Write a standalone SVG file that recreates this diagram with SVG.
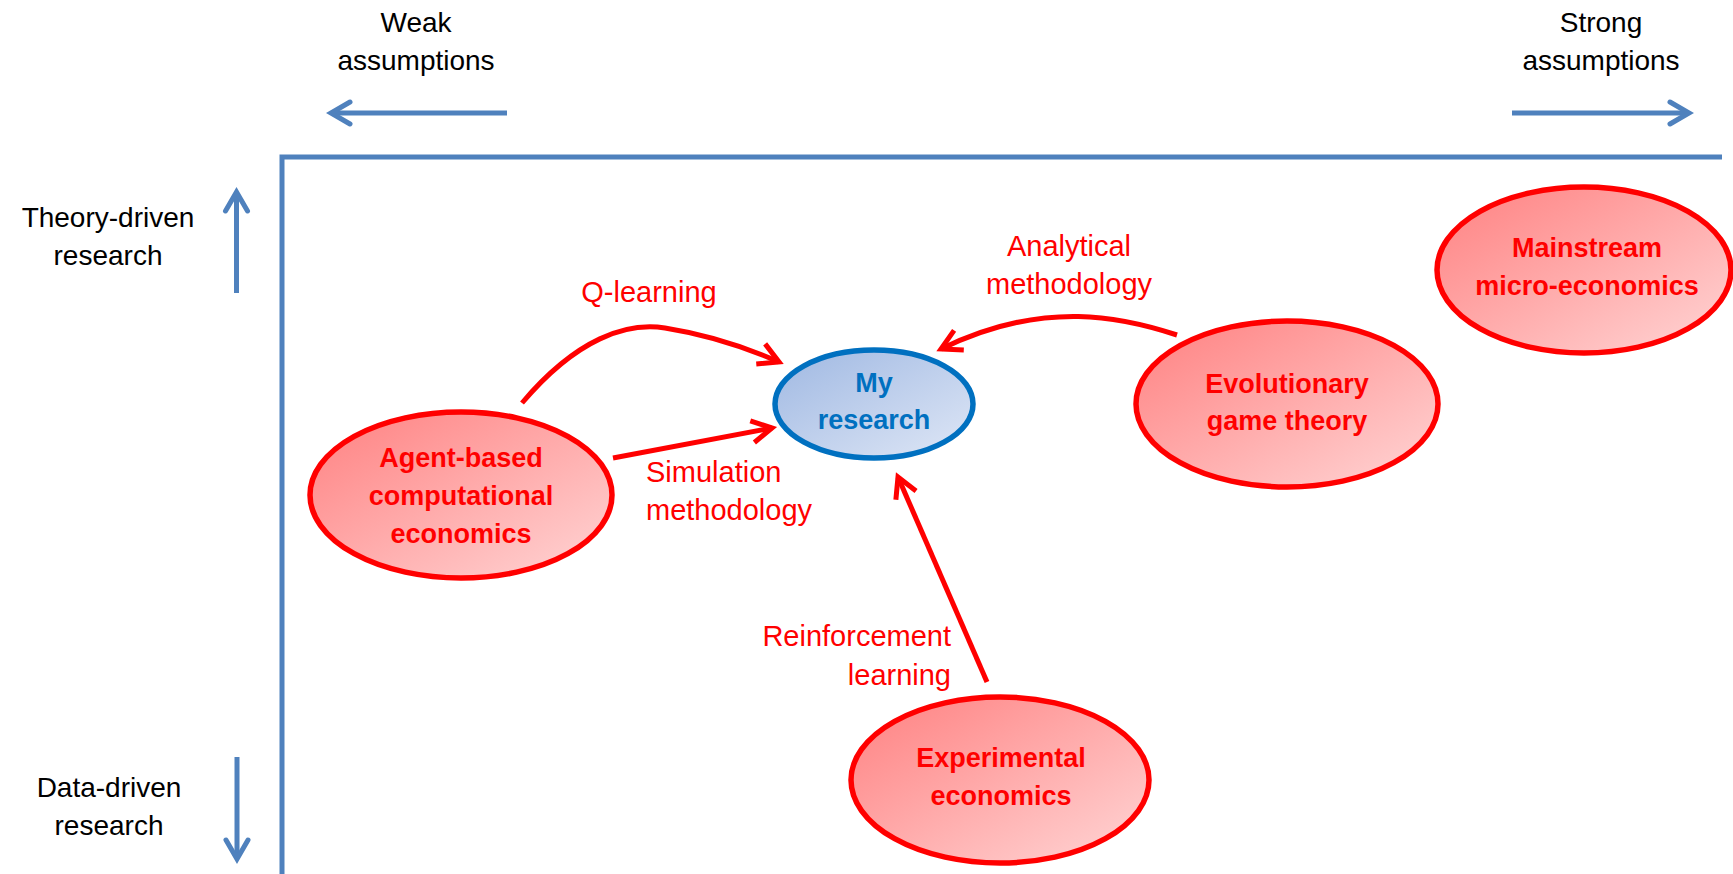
<svg xmlns="http://www.w3.org/2000/svg" width="1733" height="874" viewBox="0 0 1733 874">
  <style>
    .axis { fill: none; stroke: #4f81bd; stroke-width: 5; }
    .link { fill: none; stroke: #ff0000; stroke-width: 5; }
    .lbl { font-family: "Liberation Sans", Arial, sans-serif; font-size: 28px; fill: #000000; text-anchor: middle; }
    .rlbl { font-family: "Liberation Sans", Arial, sans-serif; font-size: 29px; fill: #ff0000; }
    .node { stroke: #ff0000; stroke-width: 5.5; fill: url(#redFill); }
    .ntext { font-family: "Liberation Sans", Arial, sans-serif; font-size: 27px; font-weight: bold; fill: #ff0000; text-anchor: middle; }
    .me { stroke: #0070c0; stroke-width: 5.5; fill: url(#blueFill); }
    .metext { font-family: "Liberation Sans", Arial, sans-serif; font-size: 27px; font-weight: bold; fill: #0070c0; text-anchor: middle; }
  </style>
  <defs>
    <linearGradient id="redFill" x1="0" y1="0" x2="1" y2="1">
      <stop offset="0" stop-color="#ff8080"/>
      <stop offset="1" stop-color="#ffd6d6"/>
    </linearGradient>
    <linearGradient id="blueFill" x1="0" y1="0" x2="1" y2="1">
      <stop offset="0" stop-color="#9fb8e2"/>
      <stop offset="1" stop-color="#dfe7f6"/>
    </linearGradient>
    <marker id="blueHead" markerUnits="userSpaceOnUse" viewBox="-25 -15 30 30" markerWidth="30" markerHeight="30" refX="0" refY="0" orient="auto" overflow="visible">
      <path d="M-19,-11 L0,0 L-19,11" fill="none" stroke="#4f81bd" stroke-width="5" stroke-linecap="round"/>
    </marker>
    <marker id="redHead" markerUnits="userSpaceOnUse" viewBox="-25 -15 30 30" markerWidth="30" markerHeight="30" refX="0" refY="0" orient="auto" overflow="visible">
      <path d="M-20,-11 L0,0 L-20,11" fill="none" stroke="#ff0000" stroke-width="5" stroke-linecap="butt"/>
    </marker>
  </defs>

  <rect width="1733" height="874" fill="#ffffff"/>

  <!-- axes frame and direction arrows -->
  <g id="axes">
    <path class="axis" d="M282,874 L282,157 L1722,157"/>
    <path class="axis" d="M507,113 L331,113" marker-end="url(#blueHead)"/>
    <path class="axis" d="M1512,113 L1689,113" marker-end="url(#blueHead)"/>
    <path class="axis" d="M236.5,293 L236.5,192" marker-end="url(#blueHead)"/>
    <path class="axis" d="M237,757 L237,859" marker-end="url(#blueHead)"/>
    <text class="lbl" x="416" y="32">Weak</text>
    <text class="lbl" x="416" y="70">assumptions</text>
    <text class="lbl" x="1601" y="32">Strong</text>
    <text class="lbl" x="1601" y="70">assumptions</text>
    <text class="lbl" x="108" y="227">Theory-driven</text>
    <text class="lbl" x="108" y="265">research</text>
    <text class="lbl" x="109" y="797">Data-driven</text>
    <text class="lbl" x="109" y="835">research</text>
  </g>

  <!-- connectors into the central node -->
  <g id="connectors">
    <path class="link" d="M522,403 C577,338 627,322 665,328 S745,347 779,362" marker-end="url(#redHead)"/>
    <path class="link" d="M613,458 L772,428" marker-end="url(#redHead)"/>
    <path class="link" d="M1177,335 C1125,318 1045,298 941,349" marker-end="url(#redHead)"/>
    <path class="link" d="M987,682 L898,477" marker-end="url(#redHead)"/>
    <text class="rlbl" x="649" y="302" text-anchor="middle">Q-learning</text>
    <text class="rlbl" x="646" y="482">Simulation</text>
    <text class="rlbl" x="646" y="520">methodology</text>
    <text class="rlbl" x="1069" y="256" text-anchor="middle">Analytical</text>
    <text class="rlbl" x="1069" y="294" text-anchor="middle">methodology</text>
    <text class="rlbl" x="951" y="646" text-anchor="end">Reinforcement</text>
    <text class="rlbl" x="951" y="685" text-anchor="end">learning</text>
  </g>

  <g id="my-research">
    <ellipse class="me" cx="874" cy="404" rx="99" ry="54"/>
    <text class="metext" x="874" y="392">My</text>
    <text class="metext" x="874" y="429">research</text>
  </g>

  <g id="agent-based">
    <ellipse class="node" cx="461" cy="495" rx="151" ry="83"/>
    <text class="ntext" x="461" y="467">Agent-based</text>
    <text class="ntext" x="461" y="505">computational</text>
    <text class="ntext" x="461" y="543">economics</text>
  </g>

  <g id="evolutionary">
    <ellipse class="node" cx="1287" cy="404" rx="151" ry="83"/>
    <text class="ntext" x="1287" y="393">Evolutionary</text>
    <text class="ntext" x="1287" y="430">game theory</text>
  </g>

  <g id="mainstream">
    <ellipse class="node" cx="1584" cy="270" rx="147" ry="83"/>
    <text class="ntext" x="1587" y="257">Mainstream</text>
    <text class="ntext" x="1587" y="295">micro-economics</text>
  </g>

  <g id="experimental">
    <ellipse class="node" cx="1000" cy="780" rx="149" ry="83"/>
    <text class="ntext" x="1001" y="767">Experimental</text>
    <text class="ntext" x="1001" y="805">economics</text>
  </g>
</svg>
